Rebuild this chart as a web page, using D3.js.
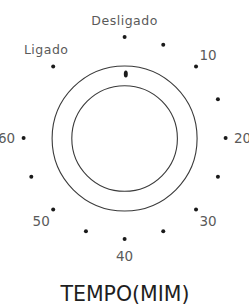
<!DOCTYPE html>
<html><head><meta charset="utf-8">
<script src="https://cdn.jsdelivr.net/npm/d3@7"></script>
<style>html,body{margin:0;padding:0;background:#fff;overflow:hidden}</style>
</head><body><svg id="c" width="249" height="306"></svg>
<script>
// Dial positions: 16 equal steps around the knob (step 0 at the top, clockwise)
const stepCount = 16;
const dotSteps = [0,1,2,3,4,5,6,7,8,9,10,11,12,14];
const labelSteps = [0,2,4,6,8,10,12,14];
const labelTexts = ["Desligado","10","20","30","40","50","60","Ligado"];
const indicatorStep = [0];
const title = "TEMPO(MIM)";

const svg = d3.select("#c");
const cx = 124.6, cy = 138;
const angle = d3.scaleLinear().domain([0, stepCount]).range([0, 2*Math.PI]);
const rDots = d3.scaleLinear().domain([0,1]).range([0,101]);
const px = (s, r) => cx + r*Math.sin(angle(s));
const py = (s, r) => cy - r*Math.cos(angle(s));

// knob circles
svg.selectAll("circle.ring").data([72.5, 52.8]).join("circle")
  .attr("class","ring").attr("cx",cx).attr("cy",cy+0.5).attr("r",d=>d)
  .attr("fill","none").attr("stroke","#3a3a3a").attr("stroke-width",1.1);

// indicator
svg.selectAll("ellipse.ind").data(indicatorStep).join("ellipse")
  .attr("class","ind").attr("cx",d=>px(d,64)+1.2).attr("cy",d=>py(d,64))
  .attr("rx",2).attr("ry",3.6).attr("fill","#1a1a1a");

// dots
svg.selectAll("circle.dot").data(dotSteps).join("circle")
  .attr("class","dot").attr("cx",d=>px(d,rDots(1))).attr("cy",d=>py(d,rDots(1)))
  .attr("r",2).attr("fill","#1a1a1a");

// labels
svg.selectAll("text.lab").data(labelSteps).join("text")
  .attr("class","lab")
  .attr("x",(d)=>px(d + (d===14?0.15:0),118))
  .attr("y",(d)=>py(d + (d===14?0.15:0),118))
  .attr("text-anchor","middle").attr("dominant-baseline","central")
  .attr("font-family","DejaVu Sans").attr("fill","#5a5a5a")
  .attr("font-size",(d,i)=> isNaN(+labelTexts[i]) ? 12.5 : 13.5)
  .attr("letter-spacing",(d,i)=> isNaN(+labelTexts[i]) ? 0.5 : 0)
  .text((d,i)=>labelTexts[i]);

svg.append("text").attr("x",125).attr("y",294)
  .attr("text-anchor","middle").attr("dominant-baseline","central")
  .attr("font-family","DejaVu Sans").attr("font-size",20.5).attr("fill","#1e1e1e")
  .text(title);
</script></body></html>
